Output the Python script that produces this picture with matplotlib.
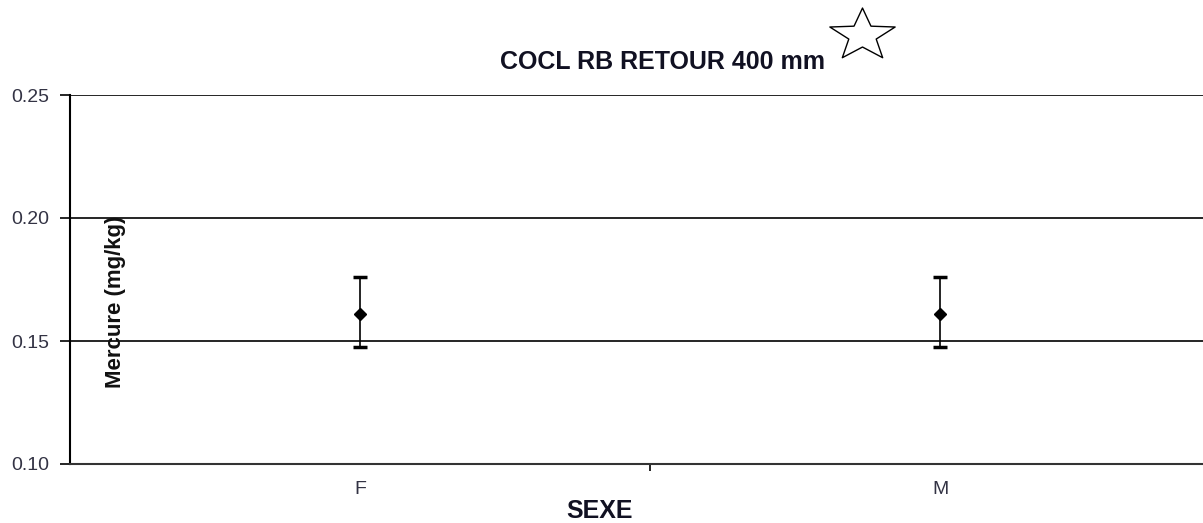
import matplotlib
matplotlib.use("Agg")
import numpy as np
import matplotlib.pyplot as plt
from matplotlib.path import Path

plt.rcParams['font.family'] = ['Liberation Sans', 'DejaVu Sans']

categories = ['F', 'M']
means = [0.161, 0.161]
upper = [0.176, 0.176]
lower = [0.1475, 0.1475]

yerr = [[m - l for m, l in zip(means, lower)], [u - m for m, u in zip(means, upper)]]

fig = plt.figure(figsize=(12.03, 5.23), dpi=100)
W, H = 1203, 523
ax = fig.add_axes([70 / W, 1 - 464 / H, (1230 - 70) / W, (464 - 95) / H])

ax.errorbar(range(len(categories)), means, yerr=yerr, fmt='D', color='black',
            markersize=6, capsize=5, capthick=2.5, elinewidth=1.2)

ax.set_xlim(-0.5, 1.5)
ax.set_ylim(0.10, 0.25)
ax.set_yticks([0.10, 0.15, 0.20, 0.25])
ax.set_yticklabels(['0.10', '0.15', '0.20', '0.25'], fontsize=14, color='#333344')
ax.set_xticks([0.5])
ax.set_xticklabels([''])
for i, c in enumerate(categories):
    ax.text(i, -0.07, c, transform=ax.get_xaxis_transform(), ha='center', va='center',
            fontsize=14, color='#333344')
ax.tick_params(axis='y', length=7, width=1.2, pad=8)
ax.tick_params(axis='x', length=5, width=1.2)
ax.grid(axis='y', color='black', linewidth=1.2)
ax.set_axisbelow(True)
for s in ['top', 'right']:
    ax.spines[s].set_visible(False)
ax.spines['left'].set_linewidth(1.5)
ax.spines['bottom'].set_linewidth(1.5)
ax.spines['bottom'].set_color('#333333')

fig.text(662 / W, 1 - 62 / H, 'COCL RB RETOUR 400 mm', ha='center', va='center',
         fontsize=18, fontweight='bold', color='#111122')
fig.text(600 / W, 1 - 511 / H, 'SEXE', ha='center', va='center',
         fontsize=18, fontweight='bold', color='#111122')
fig.text(116 / W, 1 - 302 / H, 'Mercure (mg/kg)', ha='center', va='center',
         rotation=90, fontsize=16, fontweight='bold', color='#111111')

# flattened outline star
ang = np.pi / 2 + np.arange(10) * np.pi / 5
rad = np.where(np.arange(10) % 2 == 0, 1.0, 0.42)
verts = np.column_stack([rad * np.cos(ang), 0.8 * rad * np.sin(ang)])
verts = np.vstack([verts, verts[:1]])
star = Path(verts, [Path.MOVETO] + [Path.LINETO] * 9 + [Path.CLOSEPOLY])
fig.add_artist(plt.Line2D([862 / W], [1 - 35 / H], marker=star, markersize=47,
                          markerfacecolor='white', markeredgecolor='black',
                          markeredgewidth=1.0, transform=fig.transFigure))

fig.savefig('out.png', dpi=100)
